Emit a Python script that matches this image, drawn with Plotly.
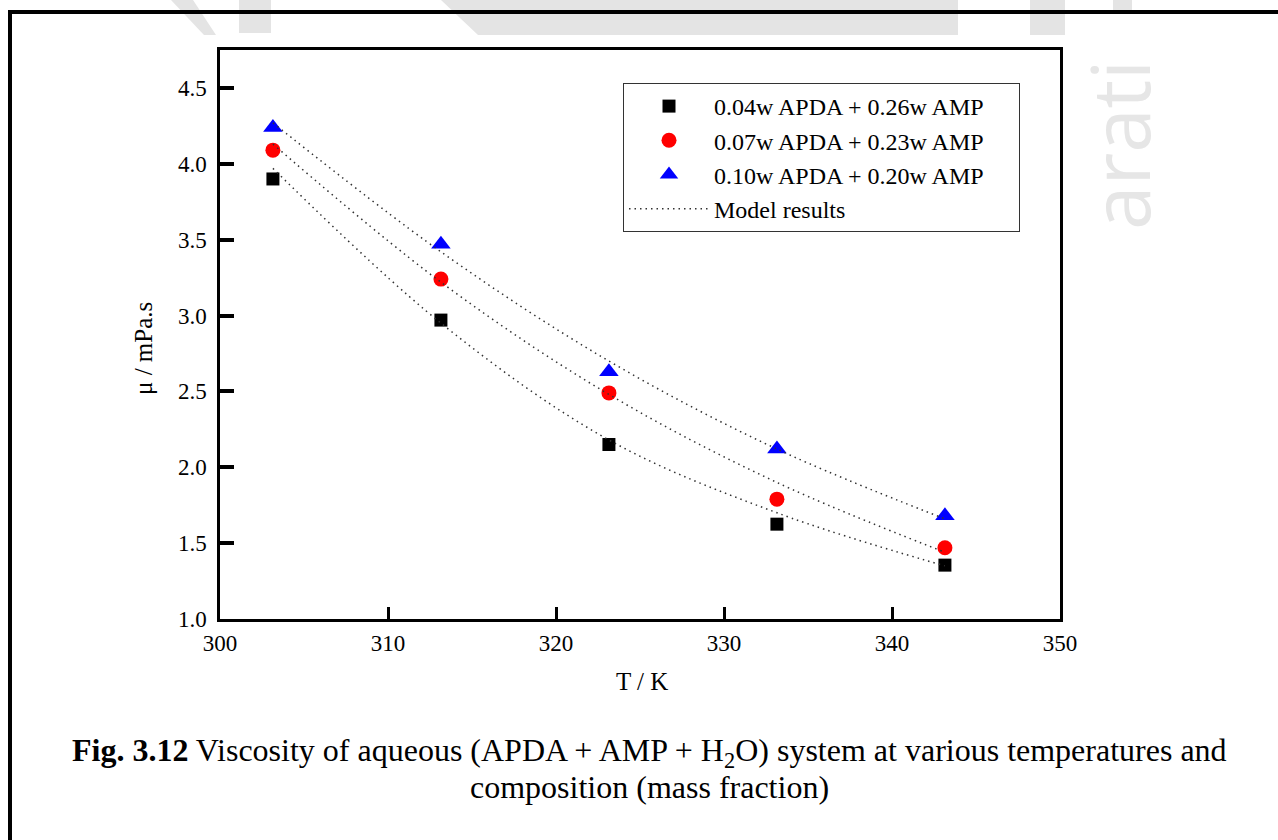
import plotly.graph_objects as go

# ---- data ----
T = [303.15, 313.15, 323.15, 333.15, 343.15]
mu_004 = [3.90, 2.97, 2.15, 1.625, 1.355]
mu_007 = [4.09, 3.24, 2.49, 1.79, 1.47]
mu_010 = [4.24, 3.47, 2.63, 2.12, 1.68]
model_004 = [3.97, 2.95, 2.18, 1.70, 1.35]
model_007 = [4.13, 3.22, 2.48, 1.90, 1.44]
model_010 = [4.27, 3.42, 2.70, 2.12, 1.66]
names = ["0.04w APDA + 0.26w AMP", "0.07w APDA + 0.23w AMP", "0.10w APDA + 0.20w AMP"]
x_ticks = [300, 310, 320, 330, 340, 350]
y_ticks = [1.0, 1.5, 2.0, 2.5, 3.0, 3.5, 4.0, 4.5]

# ---- layout geometry (pixels) ----
W, H = 1278, 840
PL, PT, PW, PH = 220, 50, 840, 569
SERIF = "Liberation Serif, Times New Roman, serif"


def px(x):
    return (x - PL) / PW


def py(y):
    return (PT + PH - y) / PH


fig = go.Figure()

markers = [("square", "black", 13), ("circle", "red", 15), ("triangle-up", "blue", 17)]
for series, name, (sym, col, size) in zip([mu_004, mu_007, mu_010], names, markers):
    label = name + ("\u00a0\u00a0\u00a0\u00a0\u00a0" if name == names[0] else "")
    fig.add_trace(go.Scatter(
        x=T, y=series, mode="markers", name=label, legendgroup=name,
        marker=dict(symbol=sym, color=col, size=size, line=dict(width=0)),
    ))

for i, m in enumerate([model_004, model_007, model_010]):
    fig.add_trace(go.Scatter(
        x=T, y=m, mode="lines", name="Model results", legendgroup="model",
        showlegend=(i == 0),
        line=dict(color="#333333", width=1.5, dash="1.5px,4px", shape="spline"),
    ))

axis_common = dict(
    showline=True, linewidth=2.5, linecolor="black", mirror=True,
    showgrid=False, zeroline=False, ticks="inside",
    tickcolor="black", tickfont=dict(family=SERIF, size=23, color="black"),
    layer="above traces", showticklabels=True,
)

fig.update_layout(
    xaxis=dict(range=[300, 350], tickmode="array", tickvals=x_ticks, ticklen=12, tickwidth=3,
               ticklabelstandoff=2, **axis_common),
    yaxis=dict(range=[1.0, 4.75], tickmode="array", tickvals=y_ticks, tickformat=".1f", ticklen=14,
               tickwidth=3.5, ticklabelstandoff=6, **axis_common),
)

shapes = []
# page borders
shapes.append(dict(type="line", xref="paper", yref="paper", x0=px(8), x1=px(W), y0=py(12), y1=py(12),
                   line=dict(color="black", width=4)))
shapes.append(dict(type="line", xref="paper", yref="paper", x0=px(10), x1=px(10), y0=py(10), y1=py(H),
                   line=dict(color="black", width=4)))


def poly(pts):
    s = "M " + " L ".join(f"{px(a):.5f},{py(b):.5f}" for a, b in pts) + " Z"
    return dict(type="path", xref="paper", yref="paper", path=s, fillcolor="#e4e4e4",
                line=dict(width=0), layer="below")


# faint watermark fragments at the top of the page
shapes.append(poly([(171, 0), (193, 0), (216, 35), (204, 35)]))
shapes.append(poly([(239, 0), (271, 0), (271, 33), (239, 33)]))
shapes.append(poly([(441, 0), (958, 0), (958, 35), (478, 35)]))
shapes.append(poly([(1030, 0), (1065, 0), (1065, 35), (1030, 35)]))
shapes.append(poly([(1113, 0), (1132, 0), (1132, 14), (1113, 14)]))


def ann(x, y, text, size, family=SERIF, color="black", angle=0):
    return dict(x=px(x), y=py(y), xref="paper", yref="paper", text=text, textangle=angle,
                xanchor="center", yanchor="middle", showarrow=False,
                font=dict(family=family, size=size, color=color))


annotations = [
    ann(143, 349, "\u03bc / mPa.s", 25, angle=-90),
    ann(642, 681, "T / K", 25),
    ann(649, 752, "<b>Fig. 3.12</b> Viscosity of aqueous (APDA + AMP + H<sub>2</sub>O) system at various temperatures and", 32),
    ann(649, 787, "composition (mass fraction)", 32),
    ann(1118, 145, "arati", 80, family="Open Sans, sans-serif", color="#e6e6e6", angle=-90),
]

fig.update_layout(
    width=W, height=H,
    margin=dict(l=PL, r=W - PL - PW, t=PT, b=H - PT - PH, pad=0),
    paper_bgcolor="white", plot_bgcolor="white",
    showlegend=True,
    legend=dict(
        x=px(623), y=py(83), xanchor="left", yanchor="top",
        bordercolor="#333333", borderwidth=1, bgcolor="white",
        font=dict(family=SERIF, size=24, color="black"),
        itemwidth=80, tracegroupgap=0, traceorder="grouped",
    ),
    shapes=shapes,
    annotations=annotations,
)

fig.write_html("out.html")
